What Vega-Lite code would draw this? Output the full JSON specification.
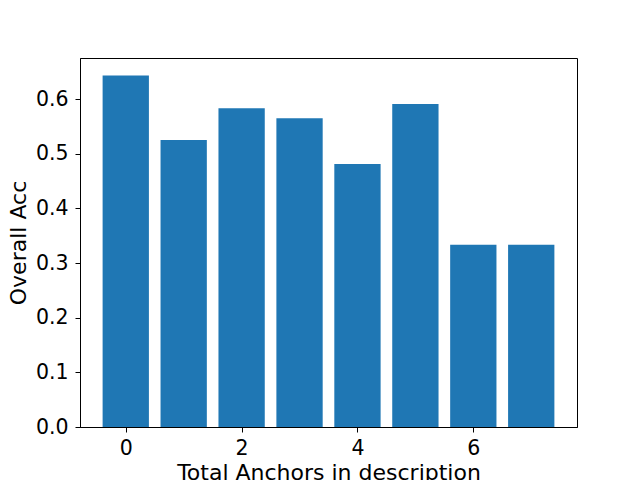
{
  "$schema": "https://vega.github.io/schema/vega-lite/v6.json",
  "autosize": {"type": "none"},
  "padding": {"left": 80, "top": 58, "right": 63, "bottom": 53},
  "width": 497,
  "height": 369,
  "background": "white",
  "config": {
    "font": "DejaVu Sans",
    "view": {"stroke": "black", "strokeWidth": 1},
    "axis": {
      "grid": false,
      "domainColor": "black",
      "tickColor": "black",
      "tickSize": 5,
      "labelFontSize": 20.5,
      "labelColor": "black",
      "titleFontSize": 22,
      "titleFontWeight": "normal",
      "titleColor": "black",
      "labelFont": "DejaVu Sans",
      "titleFont": "DejaVu Sans"
    }
  },
  "data": {
    "values": [
      {"anchors": 0, "acc": 0.643},
      {"anchors": 1, "acc": 0.525},
      {"anchors": 2, "acc": 0.583},
      {"anchors": 3, "acc": 0.565},
      {"anchors": 4, "acc": 0.481},
      {"anchors": 5, "acc": 0.591},
      {"anchors": 6, "acc": 0.3333},
      {"anchors": 7, "acc": 0.3333}
    ]
  },
  "mark": {"type": "bar", "width": 46.3, "color": "#1f77b4"},
  "encoding": {
    "x": {
      "field": "anchors",
      "type": "quantitative",
      "scale": {"domain": [-0.79, 7.79], "nice": false, "zero": false, "padding": 0},
      "axis": {
        "values": [0, 2, 4, 6],
        "format": "d",
        "title": "Total Anchors in description",
        "labelPadding": 6,
        "titlePadding": 4,
        "labelFlush": false
      }
    },
    "y": {
      "field": "acc",
      "type": "quantitative",
      "scale": {"domain": [0, 0.675], "nice": false, "padding": 0},
      "axis": {
        "values": [0, 0.1, 0.2, 0.3, 0.4, 0.5, 0.6],
        "format": ".1f",
        "title": "Overall Acc",
        "labelPadding": 7,
        "titlePadding": 5,
        "labelFlush": false
      }
    }
  }
}
